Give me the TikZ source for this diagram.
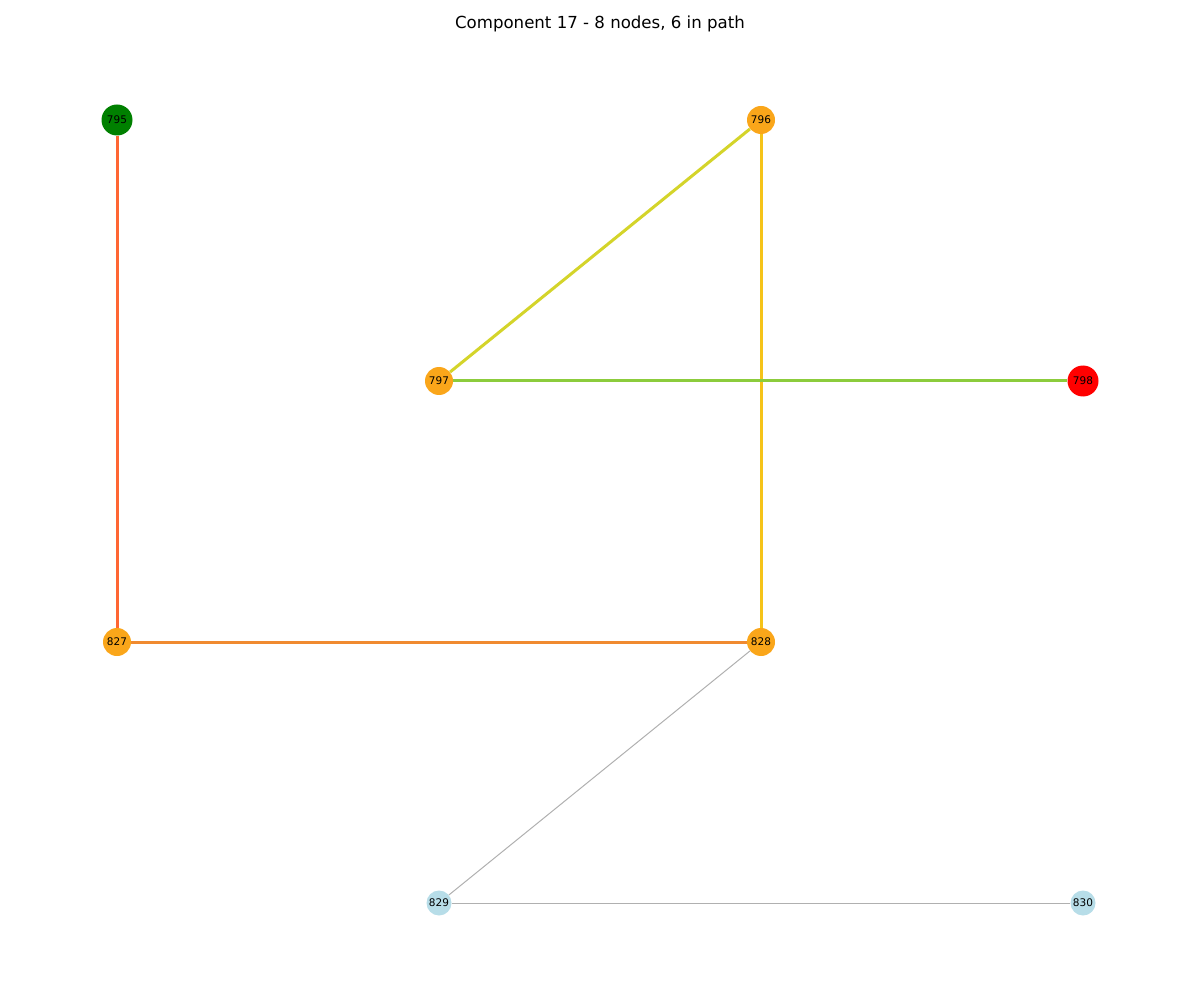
\documentclass[tikz,border=0pt]{standalone}
\usepackage{fontspec}
\setmainfont{DejaVu Sans}
\usepackage{tikz}
\definecolor{startgreen}{RGB}{0,128,0}
\definecolor{endred}{RGB}{255,0,0}
\definecolor{pathorange}{RGB}{250,166,26}
\definecolor{offblue}{RGB}{183,221,232}
\definecolor{edgeredorange}{RGB}{255,102,51}
\definecolor{edgeorange}{RGB}{240,138,48}
\definecolor{edgeamber}{RGB}{245,195,24}
\definecolor{edgelime}{RGB}{212,212,42}
\definecolor{edgegreen}{RGB}{140,204,60}
\definecolor{edgegrey}{RGB}{176,176,176}
\tikzset{
  pathnode/.style={circle,fill=pathorange,minimum size=28pt,inner sep=0pt,
    font=\fontsize{10.5}{12}\selectfont},
  startnode/.style={pathnode,fill=startgreen,minimum size=31pt},
  endnode/.style={pathnode,fill=endred,minimum size=31pt},
  offnode/.style={pathnode,fill=offblue,minimum size=25pt},
  pathedge/.style={line width=3pt},
  offedge/.style={line width=1pt,draw=edgegrey},
  titlelabel/.style={font=\fontsize{16.6}{19}\selectfont}
}
\begin{document}
\begin{tikzpicture}[x=1pt,y=-1pt]
  \useasboundingbox (0,0) rectangle (1200,1000);
  \node[titlelabel] (title) at (600,24) {Component 17 - 8 nodes, 6 in path};
  % nodes
  \node[startnode] (n795) at (117,120) {795};
  \node[pathnode] (n796) at (761,120) {796};
  \node[pathnode] (n797) at (439,381) {797};
  \node[endnode] (n798) at (1083,381) {798};
  \node[pathnode] (n827) at (117,642) {827};
  \node[pathnode] (n828) at (761,642) {828};
  \node[offnode] (n829) at (439,903) {829};
  \node[offnode] (n830) at (1083,903) {830};
  % edges
  \draw[offedge] (n828) -- (n829);
  \draw[offedge] (n829) -- (n830);
  \draw[pathedge,draw=edgeredorange] (n795) -- (n827);
  \draw[pathedge,draw=edgeorange] (n827) -- (n828);
  \draw[pathedge,draw=edgeamber] (n828) -- (n796);
  \draw[pathedge,draw=edgelime] (n796) -- (n797);
  \draw[pathedge,draw=edgegreen] (n797) -- (n798);
\end{tikzpicture}
\end{document}
